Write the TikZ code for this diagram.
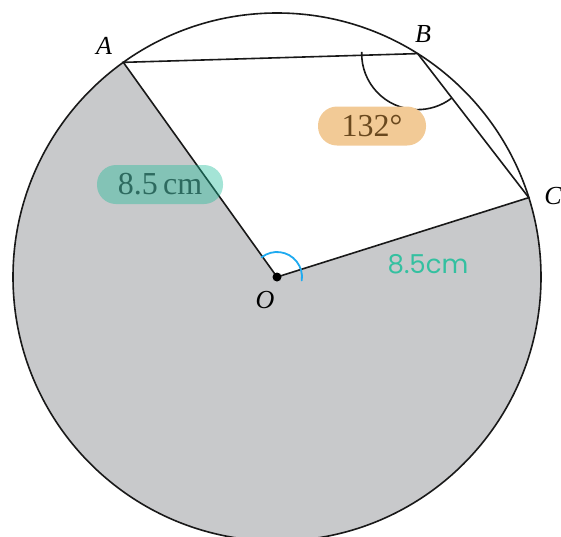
\documentclass[tikz,border=0pt]{standalone}
\usepackage{fontspec}
\setmainfont{Liberation Serif}
\newfontfamily\handfont{Poppins}
\usepackage{tikz}
\usetikzlibrary{positioning,calc}
\definecolor{sectorgrey}{RGB}{200,201,203}
\definecolor{tealmark}{RGB}{28,187,152}
\definecolor{tealtext}{RGB}{45,106,95}
\definecolor{orangemark}{RGB}{242,202,150}
\definecolor{browntext}{RGB}{105,72,30}
\definecolor{handteal}{RGB}{52,192,160}
\definecolor{anglemark}{RGB}{30,170,240}

\begin{document}
\begin{tikzpicture}[
  x=1pt, y=1pt,
  edge/.style={line width=1.6pt, black!90},
  pt/.style={font=\fontsize{26}{30}\selectfont\itshape},
  highlight/.style={rounded corners=19pt, minimum height=39pt, inner sep=0pt,
    font=\fontsize{32}{36}\selectfont}
]
\useasboundingbox (0,0) rectangle (561,-536);

\coordinate (O) at (277,-277);
\coordinate (A) at ($(O)+(125.6:264)$);
\coordinate (B) at ($(O)+(57.8:264)$);
\coordinate (C) at ($(O)+(17.5:264)$);

% major sector shaded
\fill[sectorgrey] (O) -- (A) arc[start angle=125.6, end angle=377.5, radius=264pt] -- cycle;
\draw[edge] (O) circle[radius=264pt];

% quadrilateral
\draw[edge] (O) -- (A) -- (B) -- (C) -- cycle;

% angle at B
\draw[edge] ($(B)+(178.3:56)$) arc[start angle=178.3, end angle=307.2, radius=56pt];

% hand-drawn angle at O
\draw[anglemark, line width=1.8pt, line cap=round]
  ($(O)+(128:25)$) arc[start angle=128, end angle=-8, radius=25pt];
\fill (O) circle[radius=4.5pt];

\node[pt] (lA) at (104,-46) {A};
\node[pt] (lB) at (423,-34) {B};
\node[pt] (lC) at (553,-196) {C};
\node[pt] (lO) at (265,-300) {O};

\node[highlight, fill=tealmark, fill opacity=0.4, text opacity=1, text=tealtext,
  minimum width=126pt] (radA) at (160,-184.5) {8.5\,cm};
\node[highlight, fill=orangemark, text=browntext, minimum width=108pt]
  (angB) at (372,-126) {132\textdegree};

\node[font=\handfont\fontsize{26}{30}\selectfont, text=handteal]
  (radC) at (428,-264) {8.5cm};
\end{tikzpicture}
\end{document}
